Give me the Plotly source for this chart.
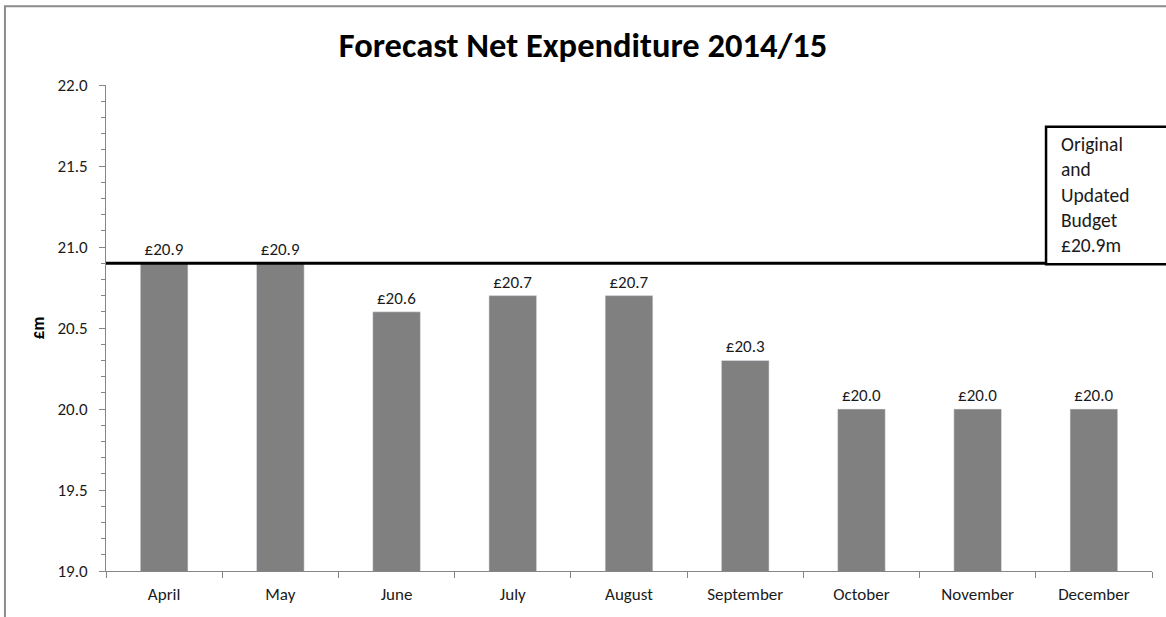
import plotly.graph_objects as go

months = ["April", "May", "June", "July", "August", "September", "October", "November", "December"]
net_expenditure = [20.9, 20.9, 20.6, 20.7, 20.7, 20.3, 20.0, 20.0, 20.0]
budget = 20.9
budget_note = ["Original", "and", "Updated", "Budget", "£20.9m"]
y_ticks = [19.0, 19.5, 20.0, 20.5, 21.0, 21.5, 22.0]

FONT = "Carlito, Lato, 'Open Sans', sans-serif"
AXIS_GREY = "#868686"

fig = go.Figure()

fig.add_trace(
    go.Bar(
        x=months,
        y=net_expenditure,
        marker_color="#808080",
        width=0.41,
        text=[f"£{v:.1f}" for v in net_expenditure],
        textposition="outside",
        textfont=dict(size=17, color="#1a1a1a"),
        cliponaxis=False,
    )
)

# budget line runs across the plot and into the note box
fig.add_shape(
    type="line", xref="paper", yref="y",
    x0=0, x1=1.03, y0=budget, y1=budget,
    line=dict(color="black", width=3),
)
fig.add_shape(
    type="rect", xref="paper", yref="paper",
    x0=0.8987, x1=1.03, y0=0.631, y1=0.914,
    line=dict(color="black", width=2.5), fillcolor="white",
)
fig.add_annotation(
    xref="paper", yref="paper", x=0.911, y=0.907,
    xanchor="left", yanchor="top", align="left", showarrow=False,
    text="<br>".join(budget_note),
    font=dict(size=19.5, color="#1a1a1a", family=FONT),
)

# outer chart frame
fig.add_shape(
    type="rect", xref="paper", yref="paper",
    x0=-0.0966, x1=1.05, y0=-0.3, y1=1.162,
    line=dict(color="#8c8c8c", width=2),
)

fig.update_layout(
    width=1166, height=617,
    margin=dict(l=106, r=14, t=85, b=44),
    paper_bgcolor="white", plot_bgcolor="white",
    font=dict(family=FONT, size=17, color="#1a1a1a"),
    title=dict(
        text="<b>Forecast Net Expenditure 2014/15</b>",
        x=0.5, xanchor="center", y=0.927, yanchor="middle",
        font=dict(size=34.5, color="black", family=FONT),
    ),
    showlegend=False,
    bargap=0.59,
)

fig.update_xaxes(
    showline=True, linecolor=AXIS_GREY, linewidth=1,
    ticks="outside", tickson="boundaries", ticklen=6, tickcolor=AXIS_GREY,
    showgrid=False, tickfont=dict(size=17), ticklabelstandoff=8,
)
fig.update_yaxes(
    range=[19.0, 22.0], tickvals=y_ticks, ticktext=[f"{v:.1f}" for v in y_ticks],
    showline=True, linecolor=AXIS_GREY, linewidth=1,
    ticks="outside", ticklen=6, tickcolor=AXIS_GREY,
    minor=dict(dtick=0.1, ticks="outside", ticklen=4, tickcolor=AXIS_GREY, showgrid=False),
    showgrid=False, zeroline=False, tickfont=dict(size=17), ticklabelstandoff=8,
    title=dict(text="<b>£m</b>", font=dict(size=17, color="black"), standoff=8),
)

fig.write_html(
    "out.html",
    config={"displayModeBar": False},
    post_script="document.body.style.margin='0';",
)
